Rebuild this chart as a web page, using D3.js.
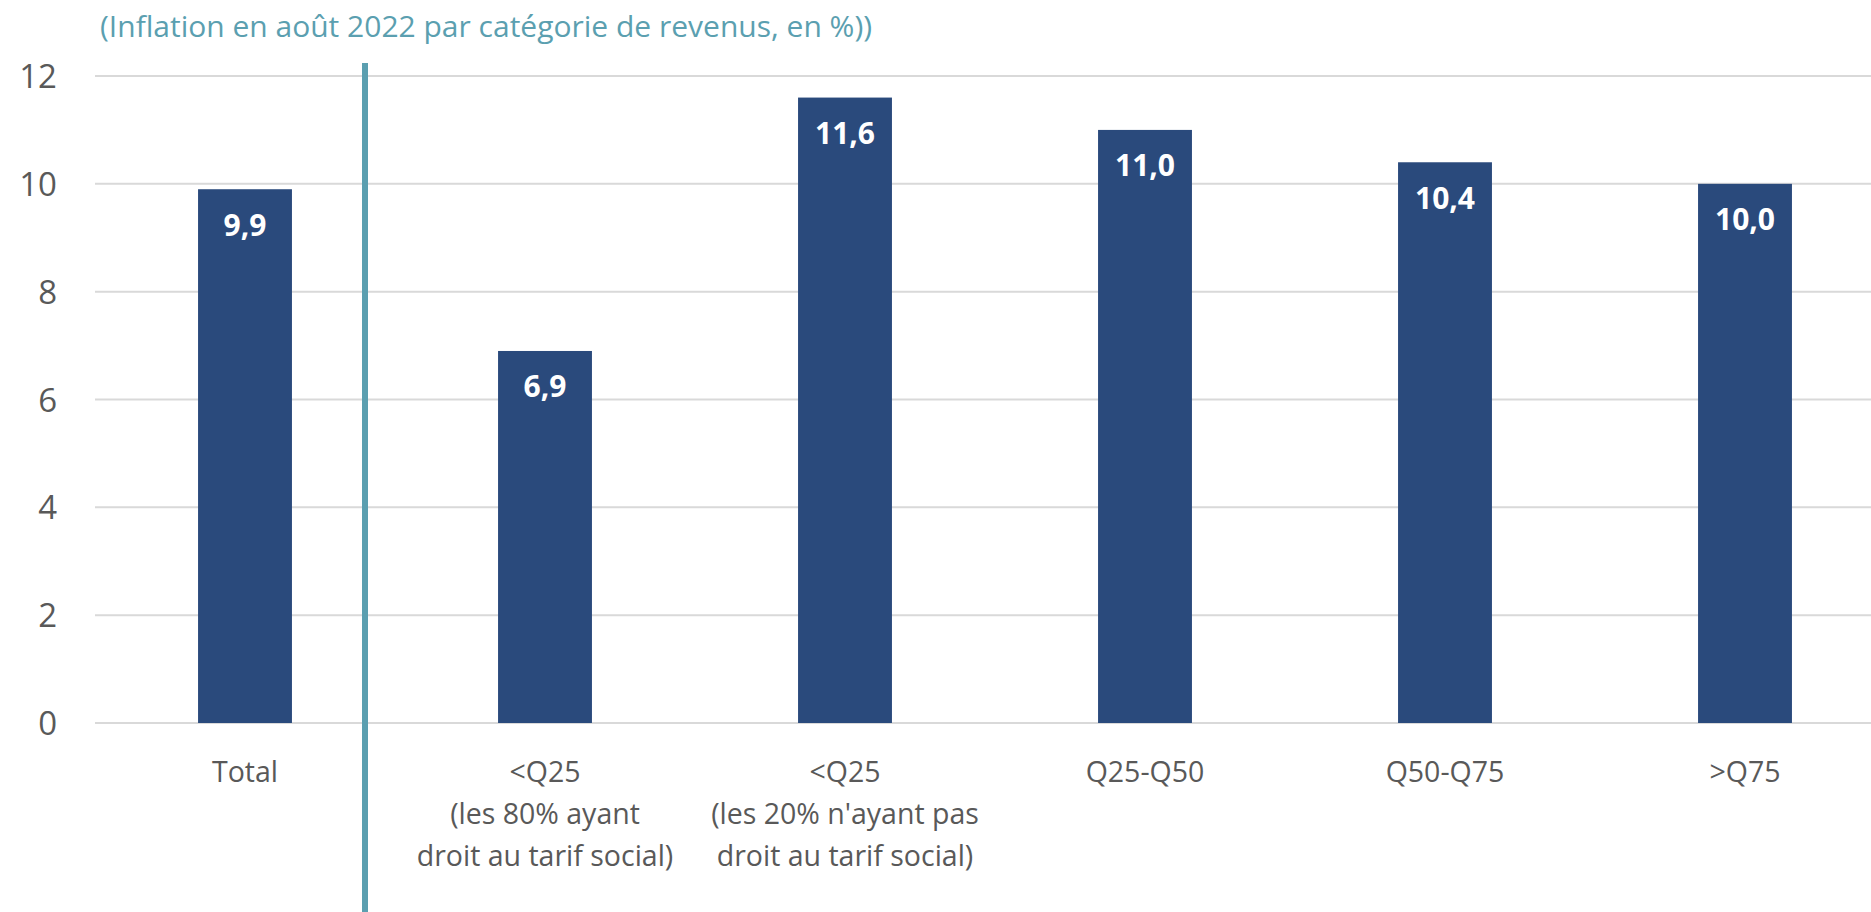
<!DOCTYPE html>
<html><head><meta charset="utf-8">
<script src="https://cdn.jsdelivr.net/npm/d3@7"></script>
<style>
html,body{margin:0;padding:0;background:#fff;overflow:hidden}
text{font-family:"Open Sans","Noto Sans",sans-serif}
</style></head>
<body><svg id="c" width="1871" height="912"></svg>
<script>
const categories = ["Total", "<Q25\n(les 80% ayant\ndroit au tarif social)", "<Q25\n(les 20% n'ayant pas\ndroit au tarif social)", "Q25-Q50", "Q50-Q75", ">Q75"];
const values = [9.9, 6.9, 11.6, 11.0, 10.4, 10.0];
const valueLabels = ["9,9", "6,9", "11,6", "11,0", "10,4", "10,0"];
const yTicks = [0, 2, 4, 6, 8, 10, 12];
const title = "(Inflation en août 2022 par catégorie de revenus, en %))";

const svg = d3.select("#c");
const W = 1871, H = 912;
const m = {left: 95, right: -24, top: 76, bottom: 189};
const x = d3.scaleBand().domain(categories).range([m.left, W - m.right]).paddingInner(0.687).paddingOuter(0.3435);
const y = d3.scaleLinear().domain([0, 12]).range([H - m.bottom, m.top]);

// gridlines
svg.append("g").selectAll("line").data(yTicks).join("line")
  .attr("x1", m.left).attr("x2", W).attr("y1", d => y(d)).attr("y2", d => y(d))
  .attr("stroke", "#d9d9d9").attr("stroke-width", 2);

// y axis labels
const yAxis = d3.axisLeft(y).tickValues(yTicks).tickSize(0).tickPadding(0).tickFormat(d3.format("d"));
const ga = svg.append("g").attr("transform", `translate(${m.left - 38},0)`).call(yAxis);
ga.select(".domain").remove();
ga.selectAll("text").attr("font-size", 33).attr("fill", "#595959").attr("font-family", "Open Sans, Noto Sans, sans-serif").attr("dy", "0.35em");

// bars
svg.append("g").selectAll("rect").data(values).join("rect")
  .attr("x", (d, i) => x(categories[i])).attr("width", x.bandwidth())
  .attr("y", d => y(d)).attr("height", d => y(0) - y(d))
  .attr("fill", "#2a4a7c");

// value labels
svg.append("g").selectAll("text").data(values).join("text")
  .attr("x", (d, i) => x(categories[i]) + x.bandwidth() / 2)
  .attr("y", d => y(d) + 36).attr("dy", "0.35em")
  .attr("text-anchor", "middle").attr("fill", "#fff").attr("font-weight", "bold").attr("font-size", 30)
  .text((d, i) => valueLabels[i]);

// x labels
const xl = svg.append("g").selectAll("text").data(categories).join("text")
  .attr("text-anchor", "middle").attr("fill", "#595959").attr("font-size", 28.5)
  .attr("transform", d => `translate(${x(d) + x.bandwidth() / 2},${y(0) + 49})`);
xl.selectAll("tspan").data(d => d.split("\n")).join("tspan")
  .attr("x", 0).attr("y", (d, i) => i * 42).attr("dy", "0.35em").text(d => d);

// separator
const sepX = x(categories[0]) + x.bandwidth() / 2 + x.step() * 0.4;
svg.append("line").attr("x1", sepX).attr("x2", sepX).attr("y1", y(12) - 13).attr("y2", H)
  .attr("stroke", "#5b9fb0").attr("stroke-width", 6);

// title
svg.append("text").attr("x", 100).attr("y", 26).attr("dy", "0.35em")
  .attr("fill", "#5b9fb0").attr("font-size", 30).text(title);
</script></body></html>
